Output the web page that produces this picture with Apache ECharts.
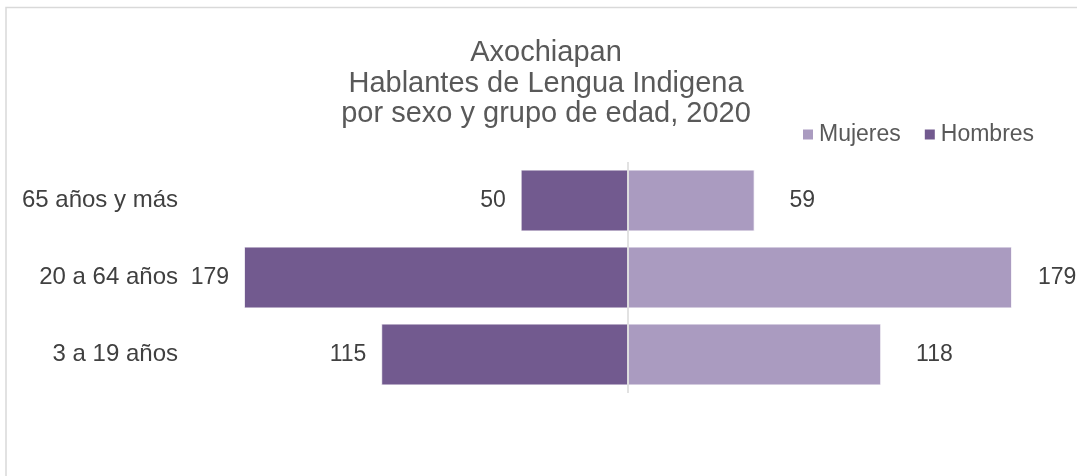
<!DOCTYPE html>
<html>
<head>
<meta charset="utf-8">
<script src="https://cdn.jsdelivr.net/npm/echarts@6/dist/echarts.min.js"></script>
<style>
  html, body { margin: 0; padding: 0; background: #fff; }
  #chart { width: 1077px; height: 476px; }
</style>
</head>
<body>
<div id="chart"></div>
<script>
    // grupos de edad (de abajo hacia arriba)
    var categories = ['3 a 19 años', '20 a 64 años', '65 años y más'];
    var hombres = [115, 179, 50];
    var mujeres = [118, 179, 59];

    var titleLines = ['Axochiapan', 'Hablantes de Lengua Indigena', 'por sexo y grupo de edad, 2020'];
    var font = '"Liberation Sans", Arial, sans-serif';

    var chart = echarts.init(document.getElementById('chart'));

    // la etiqueta de la barra mas larga queda pegada al borde, como en Excel
    var maxMujeres = Math.max.apply(null, mujeres);
    var mujeresData = mujeres.map(function (v) {
        return v === maxMujeres ? {value: v, label: {distance: 26}} : v;
    });

    var option = {
        backgroundColor: '#fff',
        animation: false,
        graphic: [{
            type: 'rect',
            shape: {x: 6, y: 7.5, width: 1100, height: 500},
            style: {fill: 'none', stroke: '#d9d9d9', lineWidth: 1.5},
            silent: true
        }],
        title: {
            text: titleLines.join('\n'),
            left: 541,
            top: 33,
            textAlign: 'center',
            textStyle: {
                fontFamily: font, fontSize: 29, fontWeight: 'normal',
                color: '#595959', lineHeight: 30.5
            }
        },
        legend: {
            data: ['Mujeres', 'Hombres'],
            left: 801,
            top: 123,
            padding: 0,
            itemWidth: 12,
            itemHeight: 12,
            itemGap: 22,
            icon: 'rect',
            textStyle: {fontFamily: font, fontSize: 23, color: '#595959'}
        },
        grid: {left: 199, right: 20, top: 162, bottom: 83, containLabel: false},
        xAxis: {
            type: 'value',
            min: -200,
            max: 200,
            show: false
        },
        yAxis: {
            type: 'category',
            data: categories,
            axisLine: {show: false},
            axisTick: {show: false},
            axisLabel: {fontFamily: font, fontSize: 24, color: '#404040', margin: 21}
        },
        series: [
            {
                name: 'Mujeres',
                type: 'bar',
                data: mujeresData,
                barCategoryGap: '20%',
                barGap: '-100%',
                itemStyle: {color: '#aa9bc0', borderColor: '#fff', borderWidth: 0.8},
                label: {
                    show: true, position: 'right', distance: 35,
                    fontFamily: font, fontSize: 23, color: '#404040'
                },
                markLine: {
                    silent: true,
                    symbol: 'none',
                    label: {show: false},
                    lineStyle: {color: '#d9d9d9', width: 1.5, type: 'solid'},
                    data: [{xAxis: 0}]
                },
                z: 2
            },
            {
                name: 'Hombres',
                type: 'bar',
                data: hombres.map(function (v) { return -v; }),
                barCategoryGap: '20%',
                barGap: '-100%',
                itemStyle: {color: '#725a8f', borderColor: '#fff', borderWidth: 0.8},
                label: {
                    show: true, position: 'left', distance: 15,
                    fontFamily: font, fontSize: 23, color: '#404040',
                    formatter: function (p) { return Math.abs(p.value); }
                },
                z: 2
            }
        ]
    };
    chart.setOption(option);
</script>
</body>
</html>
